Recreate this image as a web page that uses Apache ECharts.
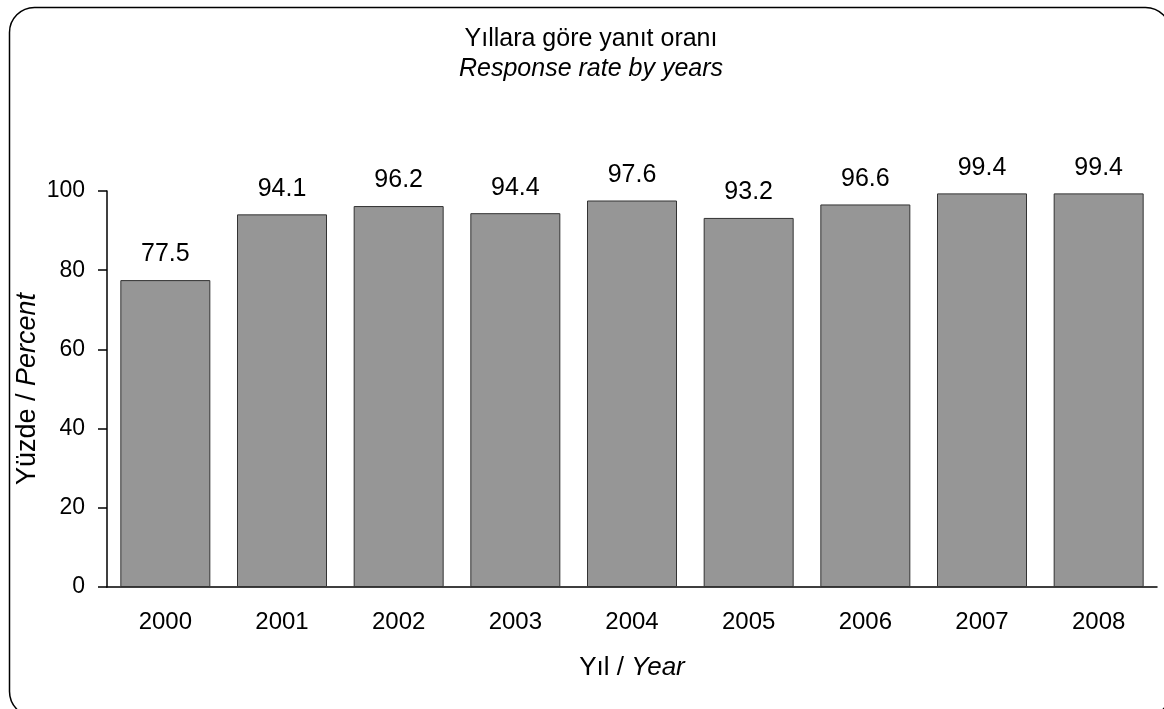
<!DOCTYPE html>
<html>
<head>
<meta charset="utf-8">
<script src="https://cdn.jsdelivr.net/npm/echarts@6/dist/echarts.min.js"></script>
<style>
  * { margin: 0; padding: 0; }
  html, body { width: 1164px; height: 709px; background: #fff; overflow: hidden; }
  #chart { width: 1164px; height: 709px; }
</style>
</head>
<body>
<div id="chart"></div>
<script>
  // data
  var years = ['2000', '2001', '2002', '2003', '2004', '2005', '2006', '2007', '2008'];
  var responseRate = [77.5, 94.1, 96.2, 94.4, 97.6, 93.2, 96.6, 99.4, 99.4];
  var yTicks = [0, 20, 40, 60, 80, 100];

  var font = '"Liberation Sans", Arial, sans-serif';
  var chart = echarts.init(document.getElementById('chart'));

  var options = {
    animation: false,
    textStyle: { fontFamily: font, color: '#000' },
    // rounded frame round the whole chart
    graphic: [{
      type: 'rect',
      left: 7,
      top: 5,
      shape: { x: 0, y: 0, width: 1161, height: 709, r: 25 },
      style: { fill: 'none', stroke: '#000', lineWidth: 1.5 },
      z: 0
    }],
    title: {
      left: 586,
      top: 19,
      textAlign: 'center',
      text: '{a|Yıllara göre yanıt oranı}\n{b|Response rate by years}',
      textStyle: {
        fontWeight: 'normal',
        rich: {
          a: { fontFamily: font, fontSize: 25, fontWeight: 'normal', color: '#000', lineHeight: 30 },
          b: { fontFamily: font, fontSize: 25, fontWeight: 'normal', color: '#000', lineHeight: 30, fontStyle: 'italic' }
        }
      }
    },
    grid: {
      left: 107,
      right: 7,
      top: 191,
      bottom: 122,
      containLabel: false
    },
    xAxis: {
      type: 'category',
      data: years,
      name: '{n|Yıl / }{i|Year}',
      nameLocation: 'middle',
      nameGap: 68,
      nameMoveOverlap: false,
      nameTextStyle: {
        rich: {
          n: { fontFamily: font, fontSize: 26, color: '#000' },
          i: { fontFamily: font, fontSize: 26, color: '#000', fontStyle: 'italic' }
        }
      },
      axisLine: { show: true, lineStyle: { color: '#000', width: 1.5 } },
      axisTick: { show: false },
      axisLabel: { fontSize: 24, color: '#000', margin: 23, interval: 0 },
      splitLine: { show: false }
    },
    yAxis: {
      type: 'value',
      min: yTicks[0],
      max: yTicks[yTicks.length - 1],
      interval: yTicks[1] - yTicks[0],
      name: '{n|Yüzde / }{i|Percent}',
      nameLocation: 'middle',
      nameGap: 66,
      nameMoveOverlap: false,
      nameTextStyle: {
        rich: {
          n: { fontFamily: font, fontSize: 27, color: '#000' },
          i: { fontFamily: font, fontSize: 27, color: '#000', fontStyle: 'italic' }
        }
      },
      axisLine: { show: true, lineStyle: { color: '#000', width: 1.5 } },
      axisTick: { show: true, inside: false, length: 9, lineStyle: { color: '#000', width: 1.5 } },
      axisLabel: { fontSize: 23, color: '#000', margin: 22 },
      splitLine: { show: false }
    },
    series: [{
      name: 'Response rate',
      type: 'bar',
      data: responseRate,
      barWidth: 90,
      itemStyle: {
        color: '#969696',
        borderColor: '#333',
        borderWidth: 1
      },
      label: {
        show: true,
        position: 'top',
        distance: 13,
        fontSize: 25,
        color: '#000',
        formatter: function (p) { return p.value.toFixed(1); }
      }
    }]
  };

  chart.setOption(options);
</script>
</body>
</html>
